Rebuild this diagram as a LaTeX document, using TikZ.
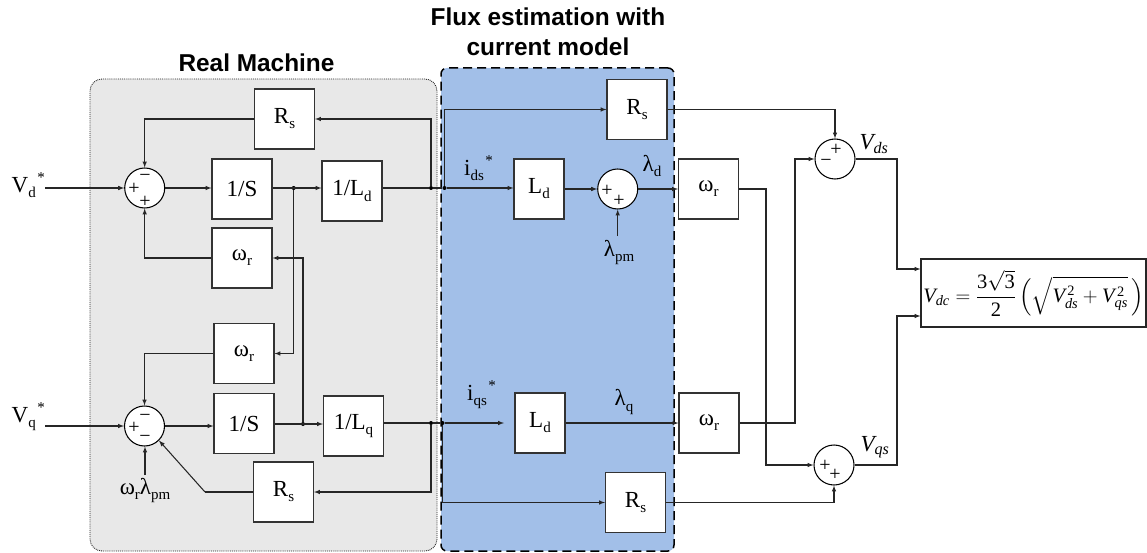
\documentclass[tikz,border=0pt]{standalone}
\usepackage{fix-cm}
\usepackage{amsmath}
\usepackage{fontspec}
\setmainfont{Liberation Serif}
\newfontfamily\titlefont{Liberation Sans}[BoldFont={Liberation Sans Bold}]
\usetikzlibrary{arrows,calc}
\newcommand{\lowidx}[1]{\raisebox{-0.22em}{\fontsize{15}{15}\selectfont #1}}
\newcommand{\topstar}{\hspace{1.5pt}\raisebox{0.42em}{\fontsize{15}{15}\selectfont *}}
\newcommand{\omr}{ω\lowidx{r}}
\newcommand{\Rs}{R\lowidx{s}}
\newcommand{\Vm}[1]{\mathit{V}_{\mathit{#1}}}
\tikzset{
  blockbox/.style={draw=black!80,fill=white,line width=1.05pt,inner sep=0pt,minimum width=60pt,minimum height=60pt,font=\fontsize{23}{26}\selectfont},
  thinbox/.style={blockbox,minimum width=50pt},
  sumnode/.style={draw=black,fill=white,circle,line width=1.05pt,inner sep=0pt,minimum size=40pt},
  dotnode/.style={fill=black,circle,inner sep=0pt,minimum size=4pt},
  signnode/.style={inner sep=0pt,font=\fontsize{20}{20}\selectfont},
  textnode/.style={inner sep=0pt,font=\fontsize{23}{26}\selectfont},
  wire/.style={line width=1.05pt,draw=black!85},
  arrowwire/.style={wire,->},
}
\begin{document}
\begin{tikzpicture}[x=1pt,y=-1pt,>=latex]
\useasboundingbox (0,0) rectangle (1147,553);
\node [draw=black!85,fill=black!9,densely dotted,line width=.9pt,rounded corners=12pt,inner sep=0pt,minimum width=347pt,minimum height=472pt] (realbox) at (263.5,315) {};
\node [draw=black,fill={rgb,255:red,162;green,191;blue,232},dash pattern=on 9pt off 5pt,line width=1.5pt,rounded corners=6pt,inner sep=0pt,minimum width=233pt,minimum height=483pt] (fluxbox) at (557.5,309.5) {};
\node [inner sep=0pt,font=\titlefont\bfseries\fontsize{24.4}{24}\selectfont] (realtitle) at (256.5,63) {Real Machine};
\node [inner sep=0pt,align=center,font=\titlefont\bfseries\fontsize{24.4}{30}\selectfont] (fluxtitle) at (548,32) {Flux estimation with\\current model};

\node [blockbox] (rsdfb) at (284.5,119) {\Rs};
\node [blockbox] (intd) at (242,189) {1/S};
\node [blockbox] (invld) at (352,191) {1/L\lowidx{d}};
\node [blockbox] (wrd) at (242,258) {\omr};
\node [blockbox] (wrq) at (244,353.5) {\omr};
\node [blockbox] (intq) at (244,423.5) {1/S};
\node [blockbox] (invlq) at (353.5,426) {1/L\lowidx{q}};
\node [blockbox] (rsqfb) at (283.5,492) {\Rs};
\node [blockbox] (rsdout) at (637,109.5) {\Rs};
\node [thinbox] (ld) at (539,189) {L\lowidx{d}};
\node [thinbox] (lq) at (540,423) {L\lowidx{d}};
\node [blockbox] (rsqout) at (635.5,502.5) {\Rs};
\node [blockbox] (wrdout) at (708.5,189) {\omr};
\node [blockbox] (wrqout) at (709,423) {\omr};

\node [sumnode] (sumd) at (144.7,188) {};
\node [sumnode] (sumq) at (144.5,426) {};
\node [sumnode] (sumlam) at (617.7,189) {};
\node [sumnode] (sumvds) at (835,159) {};
\node [sumnode] (sumvqs) at (834,465) {};
\node [signnode] (sdA) at (134,189) {+};
\node [signnode] (sdB) at (145,178) {−};
\node [signnode] (sdC) at (145,202) {+};
\node [signnode] (sqA) at (134,428) {+};
\node [signnode] (sqB) at (145,418) {−};
\node [signnode] (sqC) at (145,439) {−};
\node [signnode] (slA) at (607,191) {+};
\node [signnode] (slB) at (619,201) {+};
\node [signnode] (svdA) at (836,150) {+};
\node [signnode] (svdB) at (826,163) {−};
\node [signnode] (svqA) at (825,466) {+};
\node [signnode] (svqB) at (835,475) {+};

\node [dotnode] (dotintd) at (293.7,188) {};
\node [dotnode] (dotintq) at (303,424) {};
\node [dotnode] (dotfbd) at (431,188) {};
\node [dotnode] (dotoutd) at (444.5,188) {};
\node [dotnode] (dotfbq) at (431,423) {};
\node [dotnode] (dotoutq) at (442.5,423) {};
\coordinate (iqsend) at (504,423);
\coordinate (rsqbend) at (205,492);

\node [textnode,anchor=west] (vdin) at (11.5,185) {V\lowidx{d}\topstar};
\node [textnode,anchor=west] (vqin) at (11.5,417) {V\lowidx{q}\topstar};
\node [textnode,anchor=north] (wrlam) at (145,478) {ω\lowidx{r}λ\lowidx{pm}};
\node [textnode,anchor=north] (lampm) at (619,240) {λ\lowidx{pm}};
\node [textnode,anchor=west] (idslabel) at (464,168) {i\lowidx{ds}\topstar};
\node [textnode,anchor=west] (iqslabel) at (467,395) {i\lowidx{qs}\topstar};
\node [textnode] (lamdlabel) at (652,166) {λ\lowidx{d}};
\node [textnode] (lamqlabel) at (624,402) {λ\lowidx{q}};
\node [textnode] (vdslabel) at (874,144) {$\Vm{ds}$};
\node [textnode] (vqslabel) at (875,447) {$\Vm{qs}$};
\node [draw=black!85,fill=white,line width=1.05pt,inner sep=0pt,minimum width=225pt,minimum height=68pt,font=\fontsize{20.5}{25}\selectfont] (vdcbox) at (1033.5,293) {$\displaystyle \Vm{dc}=\frac{\mathrm{3}\sqrt{\mathrm{3}}}{\mathrm{2}}\left(\sqrt{\Vm{ds}^{\,\mathrm{2}}+\Vm{qs}^{\,\mathrm{2}}}\,\right)$};

\draw [arrowwire] (vdin.east |- sumd.west) -- (sumd.west);
\draw [arrowwire] (sumd.east) -- (intd.west |- sumd.east);
\draw [arrowwire] (intd.east |- dotintd) -- (invld.west |- dotintd);
\draw [wire] (invld.east |- dotfbd) -- (dotfbd);
\draw [wire] (dotfbd) -- (dotoutd);
\draw [arrowwire] (dotoutd) -- (ld.west |- dotoutd);
\draw [arrowwire] (dotfbd) |- (rsdfb.east);
\draw [arrowwire] (rsdfb.west) -| (sumd.north);
\draw [arrowwire] (wrd.west) -| (sumd.south);
\draw [arrowwire] (dotintq) |- (wrd.east);
\draw [arrowwire] (dotintd) |- (wrq.east);
\draw [arrowwire] (wrq.west) -| (sumq.north);
\draw [arrowwire] (vqin.east |- sumq.west) -- (sumq.west);
\draw [arrowwire] (sumq.east) -- (intq.west |- sumq.east);
\draw [arrowwire] (intq.east |- dotintq) -- (invlq.west |- dotintq);
\draw [wire] (invlq.east |- dotfbq) -- (dotfbq);
\draw [wire] (dotfbq) -- (dotoutq);
\draw [arrowwire] (dotoutq) -- (iqsend);
\draw [arrowwire] (dotfbq) |- (rsqfb.east);
\draw [wire] (rsqfb.west) -- (rsqbend);
\draw [arrowwire] (rsqbend) -- (sumq.-45);
\draw [arrowwire] ($(wrlam.north)+(0,-3)$) -- (wrlam.north |- sumq.south);
\draw [arrowwire] (dotoutd) |- (rsdout.west);
\draw [arrowwire] (dotoutq) |- (rsqout.west);
\draw [arrowwire] (ld.east |- sumlam.west) -- (sumlam.west);
\draw [arrowwire] (sumlam.east) -- (wrdout.west |- sumlam.east);
\draw [arrowwire] ($(lampm.north -| sumlam.south)+(0,-4)$) -- (sumlam.south);
\draw [arrowwire] (lq.east) -- (wrqout.west);
\draw [arrowwire] (rsdout.east) -| (sumvds.north);
\draw [arrowwire] (rsqout.east) -| (sumvqs.south);
\draw [arrowwire] (wrdout.east) -| (766,465) -- (sumvqs.west);
\draw [arrowwire] (wrqout.east) -| (795,159) -- (sumvds.west);
\draw [arrowwire] (sumvds.east) -| (897,269) -- (vdcbox.west |- 0,269);
\draw [arrowwire] (sumvqs.east) -| (897,316) -- (vdcbox.west |- 0,316);
\end{tikzpicture}
\end{document}
